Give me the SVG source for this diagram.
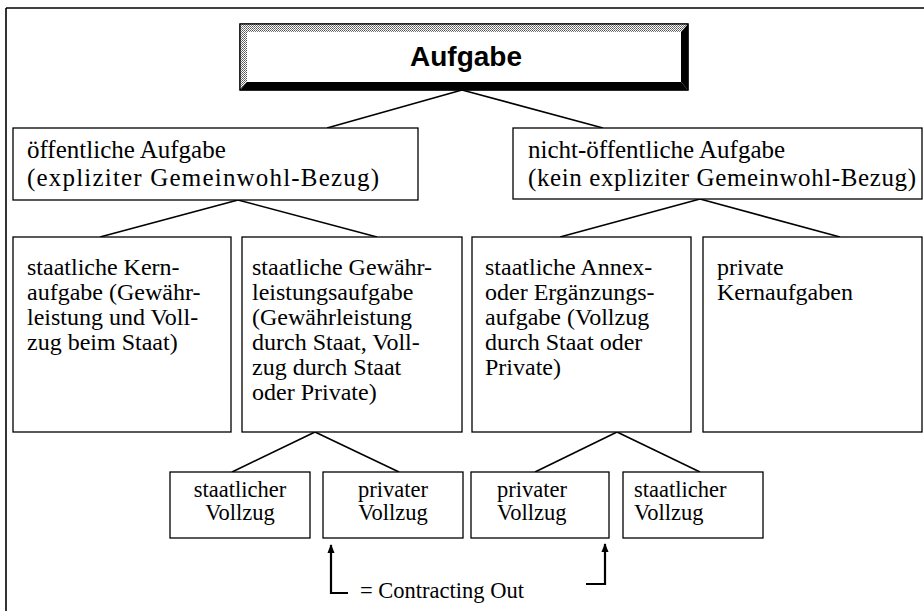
<svg xmlns="http://www.w3.org/2000/svg" width="924" height="611" viewBox="0 0 924 611">
<style>
.box{fill:#fff;stroke:#000;stroke-width:1.3}
.t{font-family:"Liberation Serif","Times New Roman",serif;fill:#000}
.t2{font-size:25px}
.t3{font-size:24px}
.t4{font-size:22.5px}
.con{stroke:#000;stroke-width:1.6;fill:none}
.arr{stroke:#000;stroke-width:2.2;fill:none}
</style>
<defs>
<pattern id="dots" width="2" height="2" patternUnits="userSpaceOnUse">
<rect width="2" height="2" fill="#fff"/>
<rect width="1" height="1" fill="#555"/>
<rect x="1" y="1" width="1" height="1" fill="#777"/>
</pattern>
<marker id="ah" viewBox="0 0 10 10" refX="9" refY="5" markerWidth="4" markerHeight="4" orient="auto" markerUnits="strokeWidth">
<path d="M0,1 L10,5 L0,9 z" fill="#000"/>
</marker>
</defs>
<g id="frame">
<line x1="6" y1="8" x2="924" y2="8" stroke="#000" stroke-width="1.4"/>
<line x1="6" y1="8" x2="6" y2="611" stroke="#000" stroke-width="1.6"/>
</g>
<g id="connectors">
<line class="con" x1="462" y1="90" x2="327" y2="128"/>
<line class="con" x1="462" y1="90" x2="603" y2="128"/>
<line class="con" x1="238" y1="200" x2="100" y2="237"/>
<line class="con" x1="238" y1="200" x2="377" y2="237"/>
<line class="con" x1="700" y1="199" x2="560" y2="237"/>
<line class="con" x1="700" y1="199" x2="840" y2="237"/>
<line class="con" x1="315" y1="432" x2="232" y2="472"/>
<line class="con" x1="315" y1="432" x2="399" y2="472"/>
<line class="con" x1="617" y1="432" x2="535" y2="472"/>
<line class="con" x1="617" y1="432" x2="700" y2="472"/>
<polyline class="arr" points="348,593 331,593 331,545" marker-end="url(#ah)"/>
<polyline class="arr" points="586,584 605,584 605,544" marker-end="url(#ah)"/>
</g>
<g id="aufgabe">
<rect x="240" y="24" width="448" height="66" fill="#fff" stroke="#000" stroke-width="1.2"/>
<polygon points="240,24 688,24 681,32 247,32" fill="url(#dots)"/>
<polygon points="240,24 247,32 247,82 240,90" fill="url(#dots)"/>
<polygon points="240,90 688,90 681,82 247,82" fill="#000"/>
<polygon points="688,24 688,90 681,82 681,32" fill="#000"/>
<rect x="240" y="24" width="448" height="66" fill="none" stroke="#000" stroke-width="1.2"/>
<text x="466" y="66" text-anchor="middle" font-family="'Liberation Sans',Arial,sans-serif" font-weight="bold" font-size="28">Aufgabe</text>
</g>
<g id="oeffentlich">
<rect class="box" x="13" y="128" width="405" height="72"/>
<text class="t t2" x="27" y="158">öffentliche Aufgabe</text>
<text class="t t2" x="27" y="186" textLength="352" lengthAdjust="spacing">(expliziter Gemeinwohl-Bezug)</text>
</g>
<g id="nichtoeffentlich">
<rect class="box" x="513" y="128" width="409" height="71"/>
<text class="t t2" x="528" y="158">nicht-öffentliche Aufgabe</text>
<text class="t t2" x="528" y="186" textLength="388" lengthAdjust="spacing">(kein expliziter Gemeinwohl-Bezug)</text>
</g>
<g id="kern">
<rect class="box" x="13" y="237" width="218" height="195"/>
<text class="t t3" x="27" y="275">staatliche Kern-</text>
<text class="t t3" x="27" y="300">aufgabe (Gewähr-</text>
<text class="t t3" x="27" y="325">leistung und Voll-</text>
<text class="t t3" x="27" y="350">zug beim Staat)</text>
</g>
<g id="gewaehr">
<rect class="box" x="242" y="237" width="220" height="195"/>
<text class="t t3" x="252" y="275">staatliche Gewähr-</text>
<text class="t t3" x="252" y="300">leistungsaufgabe</text>
<text class="t t3" x="252" y="325">(Gewährleistung</text>
<text class="t t3" x="252" y="350">durch Staat, Voll-</text>
<text class="t t3" x="252" y="375">zug durch Staat</text>
<text class="t t3" x="252" y="400">oder Private)</text>
</g>
<g id="annex">
<rect class="box" x="472" y="237" width="219" height="195"/>
<text class="t t3" x="485" y="275">staatliche Annex-</text>
<text class="t t3" x="485" y="300">oder Ergänzungs-</text>
<text class="t t3" x="485" y="325">aufgabe (Vollzug</text>
<text class="t t3" x="485" y="350">durch Staat oder</text>
<text class="t t3" x="485" y="375">Private)</text>
</g>
<g id="privatkern">
<rect class="box" x="703" y="237" width="219" height="195"/>
<text class="t t3" x="717" y="275">private</text>
<text class="t t3" x="717" y="300">Kernaufgaben</text>
</g>
<g id="vollzug1">
<rect class="box" x="170" y="472" width="140" height="66"/>
<text class="t t4" x="240" y="497" text-anchor="middle">staatlicher</text>
<text class="t t4" x="240" y="520" text-anchor="middle">Vollzug</text>
</g>
<g id="vollzug2">
<rect class="box" x="323" y="472" width="140" height="66"/>
<text class="t t4" x="393" y="497" text-anchor="middle">privater</text>
<text class="t t4" x="393" y="520" text-anchor="middle">Vollzug</text>
</g>
<g id="vollzug3">
<rect class="box" x="471" y="472" width="138" height="66"/>
<text class="t t4" x="497" y="497">privater</text>
<text class="t t4" x="497" y="520">Vollzug</text>
</g>
<g id="vollzug4">
<rect class="box" x="623" y="472" width="140" height="66"/>
<text class="t t4" x="634" y="497">staatlicher</text>
<text class="t t4" x="634" y="520">Vollzug</text>
</g>
<g id="contracting">
<text class="t t4" x="360" y="598">= Contracting Out</text>
</g>
</svg>
